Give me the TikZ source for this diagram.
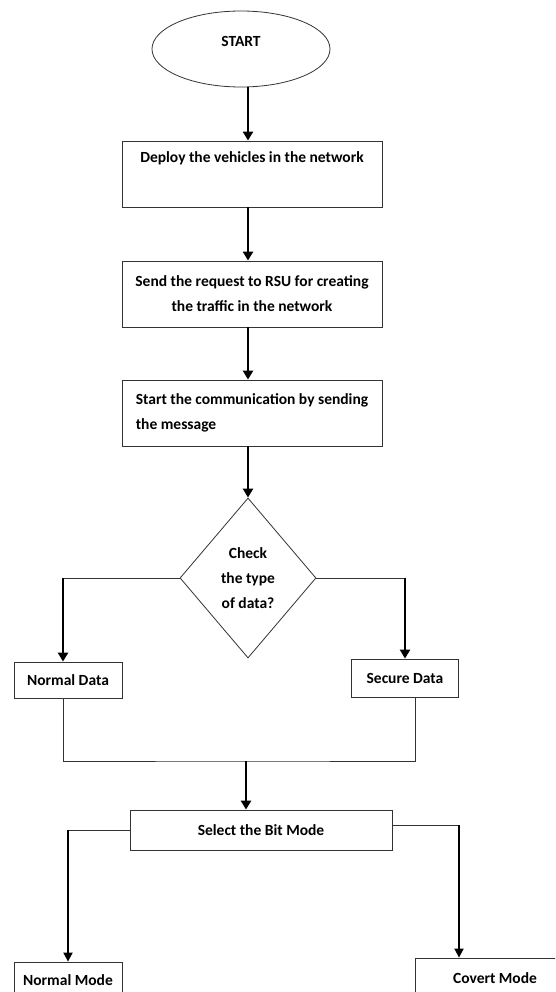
\documentclass[tikz,border=0pt]{standalone}
\usepackage{fontspec}
\setmainfont{Carlito}
\usetikzlibrary{shapes.geometric}
\usetikzlibrary{arrows.meta}

\tikzset{
  flowbox/.style={draw=black!80, line width=0.8pt, rectangle, inner sep=0pt},
  decision/.style={draw=black!80, line width=0.8pt, diamond, aspect=0.85, inner sep=0pt, align=center},
  thinline/.style={draw=black!80, line width=0.8pt},
  thickarrow/.style={line width=2.6pt, -{Triangle[length=9pt,width=10pt]}},
  modearrow/.style={line width=1.8pt, -{Triangle[length=9pt,width=9pt]}},
  every node/.append style={font=\fontsize{15.5}{25}\selectfont\bfseries}
}

\begin{document}
\begin{tikzpicture}[x=1pt,y=-1pt]
\clip (0,0) rectangle (555,992);
\fill[white] (0,0) rectangle (555,992);

% nodes
\node (start) [draw=black!80, line width=0.8pt, ellipse, minimum width=178, minimum height=76, inner sep=0pt,
  label={[anchor=center, yshift=8pt, inner sep=0pt]center:START}] at (241,49) {};
\node (deploy) [flowbox, minimum width=260, minimum height=66,
  label={[anchor=base, yshift=-22pt, inner sep=0pt]north:Deploy the vehicles in the network}] at (252,174) {};
\node (request) [flowbox, minimum width=260, minimum height=66, align=center] at (252,294)
  {Send the request to RSU for creating\\the traffic in the network};
\node (comm) [flowbox, minimum width=260, minimum height=66, align=left] at (252,413)
  {Start the communication by sending\\the message};
\node (dia) [decision, minimum width=136, minimum height=160] at (248,578) {Check\\the type\\of data?};
\node (ndata) [flowbox, minimum width=108, minimum height=36] at (68,680) {Normal Data};
\node (sdata) [flowbox, minimum width=107, minimum height=38] at (405,678) {Secure Data};
\coordinate (merge) at (246,761);
\node (select) [flowbox, minimum width=262, minimum height=40] at (261,830) {Select the Bit Mode};
\node (nmode) [flowbox, minimum width=108, minimum height=36] at (68,980) {Normal Mode};
\node (cmode) [flowbox, minimum width=160, minimum height=40] at (495,978) {Covert Mode};
\coordinate (nin) at ([xshift=-5pt]ndata.north);
\coordinate (selout) at ([yshift=5pt]select.east);
\coordinate (cin) at ([xshift=-36pt]cmode.north);

% main flow
\draw[thickarrow] (start.south -| dia.north) -- (deploy.north -| dia.north);
\draw[thickarrow] (deploy.south -| dia.north) -- (request.north -| dia.north);
\draw[thickarrow] (request.south -| dia.north) -- (comm.north -| dia.north);
\draw[thickarrow] (comm.south -| dia.north) -- (dia.north);

% data type branches
\draw[thinline] (dia.west) -- (nin |- dia.west);
\draw[thickarrow] (nin |- dia.west) -- (nin);
\draw[thinline] (dia.east) -- (sdata.north |- dia.east);
\draw[thickarrow] (sdata.north |- dia.east) -- (sdata.north);

% join
\draw[thinline] ([xshift=-5pt]ndata.south) |- (merge) -| ([xshift=10pt]sdata.south);
\draw[thickarrow] (merge) -- (merge |- select.north);

% bit mode branches
\draw[thinline] (select.west) -- (nmode.north |- select.west);
\draw[modearrow] (nmode.north |- select.west) -- (nmode.north);
\draw[thinline] (selout) -- (selout -| cin);
\draw[modearrow] (selout -| cin) -- (cin);
\end{tikzpicture}
\end{document}
